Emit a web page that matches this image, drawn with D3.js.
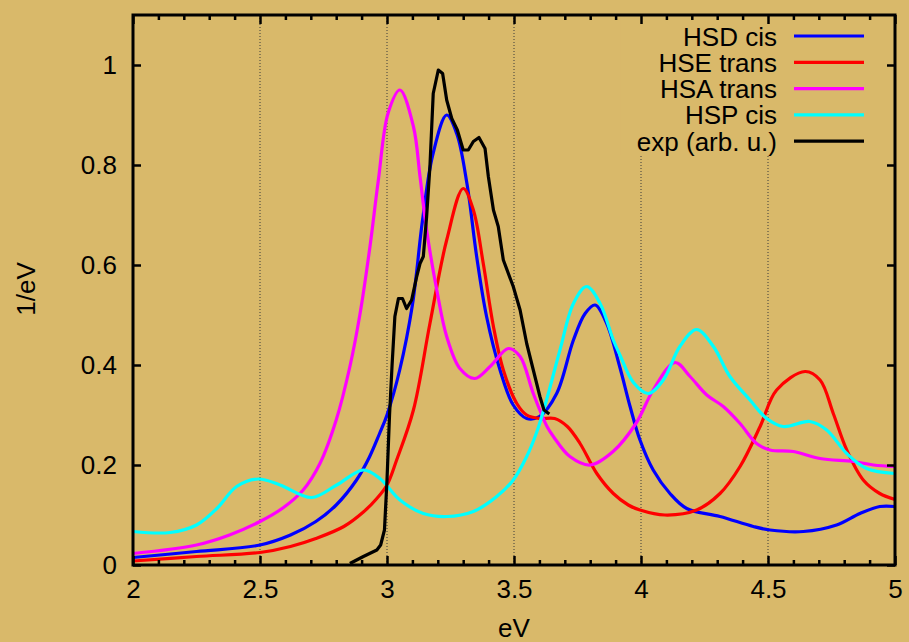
<!DOCTYPE html>
<html>
<head>
<meta charset="utf-8">
<script src="https://cdn.jsdelivr.net/npm/d3@7"></script>
<style>
  html, body { margin: 0; padding: 0; background: #d9b96a; }
  svg { display: block; }
  text { font-family: "Liberation Sans", Arial, Helvetica, sans-serif; fill: #000; }
</style>
</head>
<body>
<div id="chart"></div>
<script>
// Spectra, [eV, 1/eV]
const hsdCis = [[2.0,0.015],[2.25,0.027],[2.5,0.04],[2.62,0.06],[2.72,0.087],[2.8,0.12],[2.88,0.17],[2.93,0.215],
  [2.97,0.262],[3.0,0.3],[3.05,0.39],[3.1,0.52],[3.14,0.69],[3.18,0.82],[3.235,0.9],[3.275,0.862],[3.315,0.762],
  [3.353,0.617],[3.392,0.497],[3.445,0.39],[3.497,0.32],[3.55,0.293],[3.6,0.297],[3.668,0.343],[3.734,0.45],
  [3.78,0.503],[3.819,0.52],[3.865,0.483],[3.917,0.395],[3.957,0.317],[3.996,0.25],[4.048,0.19],[4.114,0.143],
  [4.18,0.113],[4.311,0.097],[4.442,0.077],[4.508,0.07],[4.639,0.067],[4.77,0.08],[4.862,0.103],[4.94,0.117],[5.0,0.117]];

const hseTrans = [[2.0,0.008],[2.25,0.017],[2.5,0.025],[2.62,0.037],[2.72,0.053],[2.83,0.077],[2.907,0.106],[2.96,0.133],
  [3.0,0.16],[3.038,0.21],[3.104,0.31],[3.169,0.483],[3.235,0.65],[3.3,0.753],[3.34,0.71],[3.379,0.603],[3.419,0.477],[3.458,0.39],
  [3.511,0.323],[3.55,0.3],[3.6,0.293],[3.66,0.293],[3.71,0.277],[3.76,0.243],[3.826,0.183],[3.891,0.143],[3.95,0.12],
  [3.996,0.11],[4.094,0.1],[4.219,0.11],[4.311,0.143],[4.39,0.197],[4.469,0.277],[4.534,0.35],[4.646,0.387],
  [4.705,0.37],[4.757,0.303],[4.81,0.23],[4.875,0.17],[4.94,0.143],[5.0,0.131]];

const hsaTrans = [[2.0,0.023],[2.25,0.04],[2.38,0.06],[2.5,0.087],[2.59,0.114],[2.67,0.15],[2.736,0.203],[2.8,0.29],
  [2.854,0.397],[2.894,0.503],[2.933,0.637],[2.966,0.77],[3.005,0.905],[3.051,0.95],[3.104,0.877],[3.13,0.777],
  [3.156,0.67],[3.196,0.55],[3.235,0.457],[3.287,0.393],[3.346,0.373],[3.406,0.397],[3.478,0.433],[3.524,0.417],
  [3.576,0.343],[3.63,0.277],[3.655,0.257],[3.72,0.217],[3.8,0.2],[3.89,0.227],[3.98,0.283],[4.048,0.35],[4.134,0.405],
  [4.193,0.377],[4.259,0.34],[4.324,0.317],[4.39,0.283],[4.455,0.243],[4.508,0.23],[4.6,0.227],[4.705,0.213],
  [4.836,0.207],[4.915,0.2],[5.0,0.197]];

const hspCis = [[2.0,0.067],[2.146,0.065],[2.25,0.08],[2.33,0.113],[2.408,0.157],[2.493,0.172],[2.579,0.16],[2.703,0.135],
  [2.802,0.16],[2.907,0.19],[2.972,0.173],[3.051,0.13],[3.143,0.103],[3.235,0.097],[3.34,0.107],[3.432,0.137],
  [3.497,0.17],[3.55,0.217],[3.589,0.265],[3.628,0.33],[3.681,0.43],[3.734,0.523],[3.786,0.557],[3.839,0.523],
  [3.891,0.45],[3.917,0.42],[3.97,0.365],[4.029,0.343],[4.088,0.37],[4.153,0.437],[4.219,0.471],[4.285,0.437],
  [4.35,0.377],[4.429,0.33],[4.495,0.293],[4.56,0.277],[4.665,0.287],[4.731,0.27],[4.81,0.223],[4.888,0.193],[5.0,0.183]];

const expData = [[2.854,0.003],[2.907,0.017],[2.96,0.03],[2.975,0.04],[2.99,0.07],[3.0,0.17],[3.01,0.3],[3.02,0.4],
  [3.031,0.497],[3.045,0.533],[3.061,0.533],[3.077,0.513],[3.097,0.53],[3.117,0.577],[3.13,0.603],[3.143,0.617],
  [3.156,0.697],[3.169,0.797],[3.182,0.943],[3.202,0.99],[3.219,0.983],[3.235,0.93],[3.255,0.893],[3.277,0.87],
  [3.3,0.83],[3.32,0.83],[3.34,0.847],[3.362,0.855],[3.386,0.833],[3.399,0.777],[3.419,0.71],[3.438,0.677],
  [3.458,0.61],[3.497,0.557],[3.524,0.51],[3.55,0.443],[3.576,0.39],[3.602,0.337],[3.618,0.31],[3.639,0.302]];

const seriesNames = ['HSD cis', 'HSE trans', 'HSA trans', 'HSP cis', 'exp (arb. u.)'];
const seriesColors = ['#0000ff', '#ff0000', '#ff00ff', '#00ffff', '#000000'];
const seriesData = [hsdCis, hseTrans, hsaTrans, hspCis, expData];

const xTicks = [2, 2.5, 3, 3.5, 4, 4.5, 5];
const xMinorTicks = d3.range(21, 50).map(d => d / 10).filter(d => !xTicks.includes(d));
const yTicks = [0, 0.2, 0.4, 0.6, 0.8, 1];
const gridTicks = [2.5, 3, 3.5, 4, 4.5];

const width = 909, height = 642;
const margin = { top: 15, right: 14, bottom: 77, left: 133 };
const innerW = width - margin.left - margin.right;
const innerH = height - margin.top - margin.bottom;
const bg = '#d9b96a';
const fontSize = '26px';

const svg = d3.select('#chart').append('svg')
  .attr('width', width)
  .attr('height', height);

svg.append('rect').attr('width', width).attr('height', height).attr('fill', bg);

const g = svg.append('g').attr('transform', `translate(${margin.left},${margin.top})`);

const x = d3.scaleLinear().domain([2, 5]).range([0, innerW]);
const y = d3.scaleLinear().domain([0, 1.1]).range([innerH, 0]);

g.append('clipPath').attr('id', 'plot-clip')
  .append('rect').attr('width', innerW).attr('height', innerH);

// dotted vertical grid
g.selectAll('.grid')
  .data(gridTicks)
  .join('line')
  .attr('class', 'grid')
  .attr('x1', d => x(d)).attr('x2', d => x(d))
  .attr('y1', 0).attr('y2', innerH)
  .attr('stroke', '#3a3a3a')
  .attr('stroke-width', 1)
  .attr('stroke-dasharray', '1,2');

// key area hides the grid behind it
g.append('rect')
  .attr('x', x(3.92)).attr('y', 2)
  .attr('width', innerW - x(3.92) - 2).attr('height', 138)
  .attr('fill', bg);

// curves
const smooth = d3.line()
  .x(d => x(d[0])).y(d => y(d[1]))
  .curve(d3.curveCatmullRom.alpha(0.5));
const straight = d3.line()
  .x(d => x(d[0])).y(d => y(d[1]));

g.append('g').attr('clip-path', 'url(#plot-clip)')
  .selectAll('path')
  .data(seriesData)
  .join('path')
  .attr('d', (d, i) => i === 4 ? straight(d) : smooth(d))
  .attr('fill', 'none')
  .attr('stroke', (d, i) => seriesColors[i])
  .attr('stroke-width', 3.2)
  .attr('stroke-linejoin', 'round');

// axes, ticks pointing inward
const styleAxis = ax => {
  ax.select('.domain').remove();
  ax.selectAll('line').attr('stroke', '#000').attr('stroke-width', 2.5);
  ax.selectAll('text').attr('font-size', fontSize).attr('font-family', null).attr('fill', '#000');
};

g.append('g').attr('transform', `translate(0,${innerH})`)
  .call(d3.axisBottom(x).tickValues(xTicks).tickSize(-9).tickPadding(15).tickFormat(d3.format('')))
  .call(styleAxis);
g.append('g').attr('transform', `translate(0,${innerH})`)
  .call(d3.axisBottom(x).tickValues(xMinorTicks).tickSize(-5).tickFormat(''))
  .call(styleAxis);
g.append('g')
  .call(d3.axisTop(x).tickValues(xTicks).tickSize(-9).tickFormat(''))
  .call(styleAxis);
g.append('g')
  .call(d3.axisTop(x).tickValues(xMinorTicks).tickSize(-5).tickFormat(''))
  .call(styleAxis);
g.append('g')
  .call(d3.axisLeft(y).tickValues(yTicks).tickSize(-8).tickPadding(16).tickFormat(d3.format('')))
  .call(styleAxis);
g.append('g').attr('transform', `translate(${innerW},0)`)
  .call(d3.axisRight(y).tickValues(yTicks).tickSize(-8).tickFormat(''))
  .call(styleAxis);

// frame
g.append('rect')
  .attr('width', innerW).attr('height', innerH)
  .attr('fill', 'none')
  .attr('stroke', '#000')
  .attr('stroke-width', 3);

// axis titles
svg.append('text')
  .attr('x', 514).attr('y', 637)
  .attr('text-anchor', 'middle')
  .attr('font-size', fontSize)
  .text('eV');

svg.append('text')
  .attr('transform', 'translate(35,289) rotate(-90)')
  .attr('text-anchor', 'middle')
  .attr('font-size', fontSize)
  .text('1/eV');

// key
const key = svg.append('g');
const rowY = i => 36 + i * 26.3;
key.selectAll('text')
  .data(seriesNames)
  .join('text')
  .attr('x', 777)
  .attr('y', (d, i) => rowY(i) + 9.5)
  .attr('text-anchor', 'end')
  .attr('font-size', fontSize)
  .text(d => d);
key.selectAll('line')
  .data(seriesNames)
  .join('line')
  .attr('x1', 794).attr('x2', 864)
  .attr('y1', (d, i) => rowY(i)).attr('y2', (d, i) => rowY(i))
  .attr('stroke', (d, i) => seriesColors[i])
  .attr('stroke-width', 3.2);
</script>
</body>
</html>
